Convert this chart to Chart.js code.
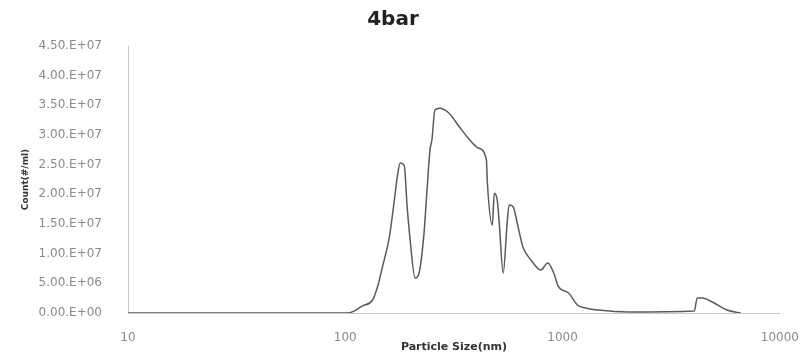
<!DOCTYPE html>
<html>
<head>
<meta charset="utf-8">
<title>4bar</title>
<script src="https://cdn.jsdelivr.net/npm/chart.js"></script>
<style>
    body { margin: 0; background: #fff; }
    canvas { display: block; }
</style>
</head>
<body>
<canvas id="psdChart" width="809" height="354"></canvas>
<script>
// Particle size (nm)
const sizes = [10, 100, 102.7, 120, 133.5, 140.6, 148.2, 159.5, 168.1, 173.4, 178.9, 186.7, 192.6, 198.8,
    209.5, 218.5, 230.3, 237.7, 245.3, 250.4, 258.4, 272.4, 299.4, 336.0, 373.1, 410.1, 445.9, 450.6,
    474.8, 484.9, 500.4, 511.0, 532.9, 555.7, 567.5, 591.8, 623.7, 657.3, 714.8, 793.5, 854.2, 910.0,
    959.0, 1065, 1170, 1273, 1459, 2000, 4036, 4165, 4390, 4978, 5706, 6607];

// Count (#/ml)
const counts = [0, 0, 0, 1.2e6, 2.19e6, 4.38e6, 7.75e6, 1.28e7, 1.90e7, 2.29e7, 2.53e7, 2.49e7, 1.79e7, 1.23e7,
    5.9e6, 6.74e6, 1.35e7, 2.07e7, 2.75e7, 2.92e7, 3.42e7, 3.45e7, 3.37e7, 3.13e7, 2.92e7, 2.78e7, 2.58e7, 2.19e7,
    1.48e7, 2.02e7, 1.90e7, 1.52e7, 6.74e6, 1.52e7, 1.82e7, 1.79e7, 1.45e7, 1.11e7, 8.93e6, 7.25e6, 8.43e6, 6.74e6,
    4.38e6, 3.37e6, 1.35e6, 8.4e5, 5.0e5, 1.7e5, 3.4e5, 2.53e6, 2.53e6, 1.69e6, 5.0e5, 0];

const xTickValues = [10, 100, 1000, 10000];
const yTickLabels = ["0.00.E+00", "5.00.E+06", "1.00.E+07", "1.50.E+07", "2.00.E+07",
    "2.50.E+07", "3.00.E+07", "3.50.E+07", "4.00.E+07", "4.50.E+07"];

const points = sizes.map((s, i) => ({ x: s, y: counts[i] }));

const ctx = document.getElementById("psdChart").getContext("2d");

new Chart(ctx, {
    type: "line",
    data: {
        datasets: [{
            data: points,
            borderColor: "#5a5a5a",
            borderWidth: 1.5,
            pointRadius: 0,
            fill: false,
            cubicInterpolationMode: "monotone"
        }]
    },
    options: {
        responsive: false,
        animation: false,
        layout: { padding: { left: 0, right: 23, top: 0, bottom: 0 } },
        plugins: {
            legend: { display: false },
            tooltip: { enabled: false },
            title: {
                display: true,
                text: "4bar",
                color: "#222",
                font: { family: "DejaVu Sans", size: 20, weight: "bold" },
                padding: { top: 8, bottom: 14 }
            }
        },
        scales: {
            x: {
                type: "logarithmic",
                min: 10,
                max: 10000,
                afterBuildTicks: (scale) => {
                    scale.ticks = xTickValues.map(v => ({ value: v }));
                },
                afterFit: (scale) => { scale.height = 41; },
                grid: { display: false },
                border: { display: true, color: "#c8c8c8", width: 1 },
                ticks: {
                    autoSkip: false,
                    maxRotation: 0,
                    padding: 10,
                    color: "#8a8a8a",
                    font: { family: "DejaVu Sans", size: 12 },
                    callback: (value) => String(value)
                },
                title: {
                    display: true,
                    text: "Particle Size(nm)",
                    color: "#333",
                    font: { family: "DejaVu Sans", size: 11, weight: "bold" },
                    padding: { top: 0, bottom: 0 }
                }
            },
            y: {
                min: 0,
                max: 45000000,
                afterFit: (scale) => { scale.width = 128; },
                grid: { display: false },
                border: { display: true, color: "#c8c8c8", width: 1 },
                ticks: {
                    stepSize: 5000000,
                    padding: 18,
                    color: "#8a8a8a",
                    font: { family: "DejaVu Sans", size: 12 },
                    callback: (value, index) => yTickLabels[index]
                },
                title: {
                    display: true,
                    text: "Count(#/ml)",
                    color: "#333",
                    font: { family: "DejaVu Sans", size: 9, weight: "bold" },
                    padding: { top: 20, bottom: 0 }
                }
            }
        }
    }
});
</script>
</body>
</html>
